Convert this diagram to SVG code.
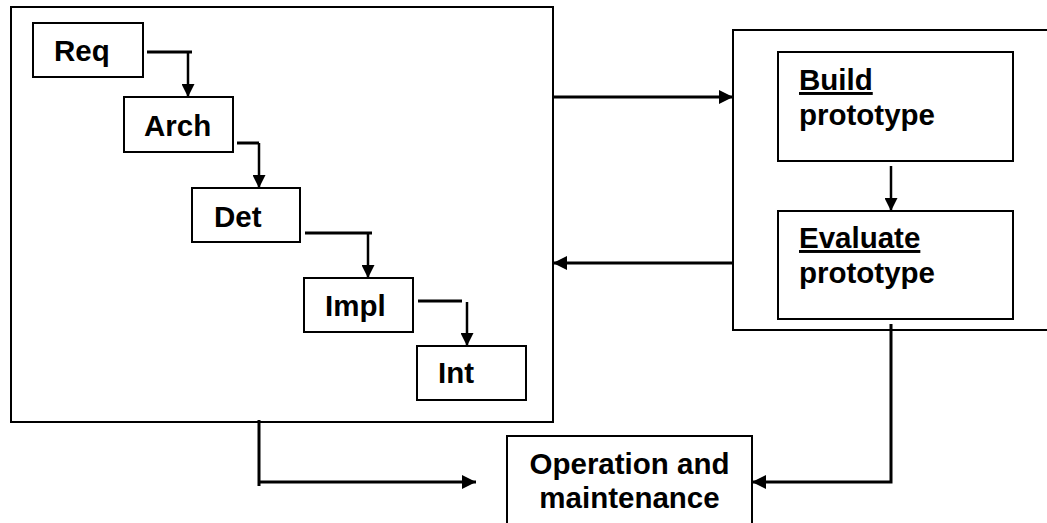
<svg xmlns="http://www.w3.org/2000/svg" width="1047" height="523" viewBox="0 0 1047 523">
  <style>
    .box { fill: #fff; stroke: #000; stroke-width: 2; }
    .frame { fill: none; stroke: #000; stroke-width: 2; }
    .lbl { font-family: "Liberation Sans", Arial, sans-serif; font-weight: bold; font-size: 29.5px; fill: #000; }
    .u { text-decoration: underline; }
    .thick { fill: none; stroke: #000; stroke-width: 3; }
    .thin { fill: none; stroke: #000; stroke-width: 2.5; }
  </style>
  <defs>
    <marker id="head" viewBox="0 0 14 14" markerWidth="14" markerHeight="14" refX="14" refY="7" orient="auto" markerUnits="userSpaceOnUse">
      <path d="M0,0 L14,7 L0,14 Z" fill="#000"/>
    </marker>
    <marker id="headS" viewBox="0 0 13 13" markerWidth="13" markerHeight="13" refX="13" refY="6.5" orient="auto" markerUnits="userSpaceOnUse">
      <path d="M0,0 L13,6.5 L0,13 Z" fill="#000"/>
    </marker>
  </defs>

  <rect width="1047" height="523" fill="#fff"/>

  <!-- waterfall container -->
  <g id="waterfall">
    <rect class="frame" x="11" y="7" width="542" height="415"/>
  </g>
  <g id="req">
    <rect class="box" x="33" y="23" width="110" height="54"/>
    <text class="lbl" x="54" y="61">Req</text>
  </g>
  <g id="arch">
    <rect class="box" x="124" y="97" width="109" height="55"/>
    <text class="lbl" x="144" y="136">Arch</text>
  </g>
  <g id="det">
    <rect class="box" x="192" y="188" width="108" height="54"/>
    <text class="lbl" x="214" y="227">Det</text>
  </g>
  <g id="impl">
    <rect class="box" x="304" y="278" width="109" height="54"/>
    <text class="lbl" x="325" y="316">Impl</text>
  </g>
  <g id="int">
    <rect class="box" x="417" y="346" width="109" height="54"/>
    <text class="lbl" x="438" y="383">Int</text>
  </g>

  <!-- prototyping container -->
  <g id="prototyping">
    <rect class="frame" x="733" y="30" width="320" height="300"/>
  </g>
  <g id="build">
    <rect class="box" x="778" y="52" width="235" height="109"/>
    <text class="lbl" x="799" y="90"><tspan class="u">Build</tspan></text>
    <text class="lbl" x="799" y="125">prototype</text>
  </g>
  <g id="evaluate">
    <rect class="box" x="778" y="211" width="235" height="108"/>
    <text class="lbl" x="799" y="248"><tspan class="u">Evaluate</tspan></text>
    <text class="lbl" x="799" y="283">prototype</text>
  </g>

  <g id="operation">
    <rect class="box" x="507" y="436" width="245" height="100"/>
    <text class="lbl" x="629.5" y="474" text-anchor="middle">Operation and</text>
    <text class="lbl" x="629.5" y="508" text-anchor="middle">maintenance</text>
  </g>

  <!-- connectors -->
  <g id="connectors">
    <path class="thick" d="M147,52 H192"/>
    <path class="thin" d="M188,52 V97" marker-end="url(#headS)"/>
    <path class="thick" d="M237,143 H259"/>
    <path class="thin" d="M259,143 V188" marker-end="url(#headS)"/>
    <path class="thick" d="M305,233 H372"/>
    <path class="thin" d="M368,233 V278" marker-end="url(#headS)"/>
    <path class="thick" d="M418,301 H462"/>
    <path class="thin" d="M467,302 V346" marker-end="url(#headS)"/>

    <path class="thick" d="M553,97 H733" marker-end="url(#head)"/>
    <path class="thick" d="M733,263 H553" marker-end="url(#head)"/>
    <path class="thin" d="M891,166 V211" marker-end="url(#headS)"/>

    <path class="thick" d="M259,420 V486"/>
    <path class="thick" d="M259,482 H476" marker-end="url(#head)"/>
    <path class="thick" d="M891,324 V482 H752" marker-end="url(#head)"/>
  </g>
</svg>
